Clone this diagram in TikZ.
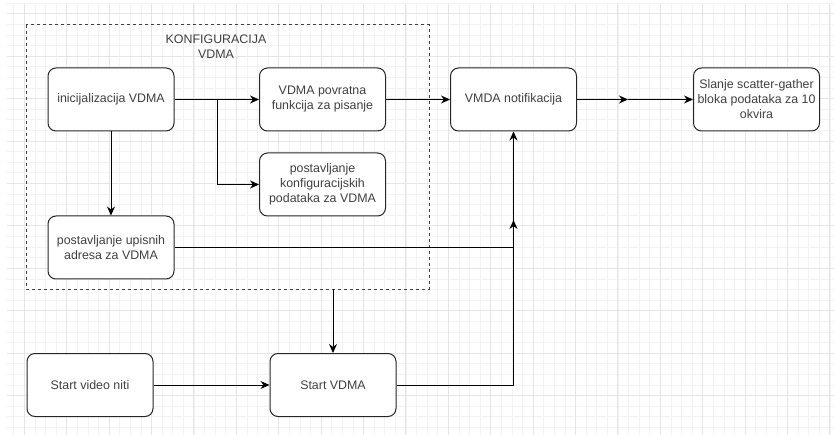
\documentclass[tikz,border=0pt]{standalone}
\usepackage{fontspec}
\setmainfont{Liberation Sans}
\usetikzlibrary{arrows.meta}

\tikzset{
  blok/.style={draw=black!85, fill=white, rounded corners=8pt, line width=1pt,
    minimum width=126pt, minimum height=63pt, inner sep=1pt, align=center,
    text=black!75, font=\fontsize{12.4}{15}\selectfont},
  veza/.style={-{Stealth[length=9pt,width=8pt,inset=3pt]}, line width=1pt},
  okvir/.style={draw=black!75, line width=1pt, dash pattern=on 3pt off 3pt},
  natpis/.style={align=center, text=black!75, font=\fontsize{12.4}{15}\selectfont},
  mrezaa/.style={draw=black!5, line width=.6pt},
  mrezab/.style={draw=black!10, line width=.8pt}
}

\begin{document}
\begin{tikzpicture}[x=1pt, y=-1pt]

\useasboundingbox (0,0) rectangle (834,435);

% pozadinska mreza
\foreach \i in {0,...,77}
  \draw[mrezaa] ({13.6+10.6*\i},4) -- ({13.6+10.6*\i},435);
\foreach \j in {0,...,40}
  \draw[mrezaa] (7,{3.2+10.6*\j}) -- (834,{3.2+10.6*\j});
\foreach \i in {0,...,19}
  \draw[mrezab] ({24.2+42.4*\i},4) -- ({24.2+42.4*\i},435);
\foreach \j in {0,...,9}
  \draw[mrezab] (7,{13.8+42.4*\j}) -- (834,{13.8+42.4*\j});

% okvir konfiguracije
\draw[okvir] (26,25) rectangle (429,289);
\node[natpis] (cfgnaslov) at (216,47) {KONFIGURACIJA\\VDMA};
\coordinate (cfgdno) at (333,289);

% blokovi
\node[blok] (init) at (111,99.5) {inicijalizacija VDMA};
\node[blok] (povratna) at (322.5,99.5) {VDMA povratna\\funkcija za pisanje};
\node[blok] (konfig) at (322.5,184.5) {postavljanje\\konfiguracijskih\\podataka za VDMA};
\node[blok] (upisnih) at (111,247.5) {postavljanje upisnih\\adresa za VDMA};
\node[blok] (notif) at (513.5,99.5) {VMDA notifikacija};
\node[blok] (slanje) at (756.5,99.5) {Slanje scatter-gather\\bloka podataka za 10\\okvira};
\node[blok] (video) at (90,385) {Start video niti};
\node[blok] (startv) at (333,385) {Start VDMA};

\coordinate (racva) at (217,99.5);
\coordinate (spoj) at (513.5,220);
\coordinate (pola) at (628,99.5);

% veze
\draw[veza] (init.east) -- (povratna.west);
\draw[veza] (racva) |- (konfig.west);
\draw[veza] (init.south) -- (upisnih.north);
\draw[veza] (povratna.east) -- (notif.west);
\draw[veza] (upisnih.east) -| (spoj);
\draw[veza] (startv.east) -| (notif.south);
\draw[veza] (cfgdno) -- (startv.north);
\draw[veza] (video.east) -- (startv.west);
\draw[veza] (notif.east) -- (pola);
\draw[veza] (pola) -- (slanje.west);

\end{tikzpicture}
\end{document}
